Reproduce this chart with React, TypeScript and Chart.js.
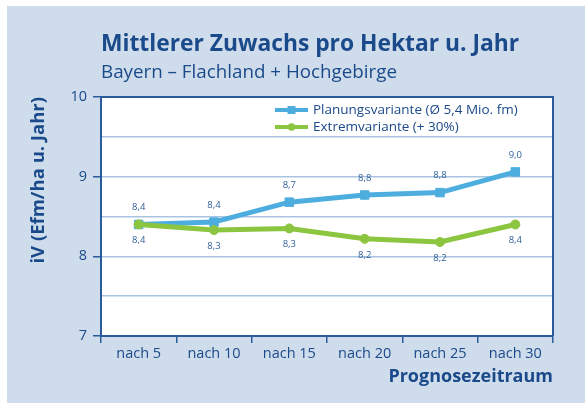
import { useEffect, useRef } from 'react';
import { Chart, registerables } from 'chart.js';

Chart.register(...registerables);

// ---- data ----
const categories = ['nach 5', 'nach 10', 'nach 15', 'nach 20', 'nach 25', 'nach 30'];
const planValues = [8.40, 8.43, 8.68, 8.77, 8.80, 9.06];
const extremValues = [8.40, 8.33, 8.35, 8.22, 8.18, 8.40];
const planLabels = ['8,4', '8,4', '8,7', '8,8', '8,8', '9,0'];
const extremLabels = ['8,4', '8,3', '8,3', '8,2', '8,2', '8,4'];
const planName = 'Planungsvariante (Ø 5,4 Mio. fm)';
const extremName = 'Extremvariante (+ 30%)';
const titleText = 'Mittlerer Zuwachs pro Hektar u. Jahr';
const subtitleText = 'Bayern – Flachland + Hochgebirge';
const yTitle = 'iV (Efm/ha u. Jahr)';
const xTitle = 'Prognosezeitraum';
const yMin = 7;
const yMax = 10;

// ---- styles ----
const FONT = '"Open Sans", "Noto Sans", sans-serif';
const DARK = '#1b4a8a';
const AXIS = '#2a5c9c';
const LABEL = '#2e5d98';
const PANEL = '#cfdcec';
const GRID = '#a9c3e0';
const BLUE = '#4cadde';
const GREEN = '#8cc540';

const decor = {
  id: 'decor',
  beforeDraw(chart: any) {
    const { ctx, width, height, chartArea: a } = chart;
    ctx.save();
    ctx.fillStyle = '#ffffff';
    ctx.fillRect(0, 0, width, height);
    ctx.fillStyle = PANEL;
    ctx.fillRect(7, 6, width - 7, height - 6);
    ctx.fillStyle = '#ffffff';
    ctx.fillRect(a.left, a.top, a.right - a.left, a.bottom - a.top);
    ctx.fillStyle = DARK;
    ctx.textAlign = 'left';
    ctx.textBaseline = 'alphabetic';
    ctx.font = `bold 22.8px ${FONT}`;
    ctx.fillText(titleText, a.left, 51);
    ctx.font = `18.8px ${FONT}`;
    ctx.fillText(subtitleText, a.left, 77.5);
    ctx.restore();
  },
  afterDatasetsDraw(chart: any) {
    const { ctx } = chart;
    ctx.save();
    ctx.fillStyle = LABEL;
    ctx.font = `9.5px ${FONT}`;
    ctx.textAlign = 'center';
    ctx.textBaseline = 'middle';
    chart.data.datasets.forEach((ds: any, i: number) => {
      const meta = chart.getDatasetMeta(i);
      const labels: string[] = ds.valueLabels;
      const dir = ds.labelSide === 'above' ? -17 : 16;
      meta.data.forEach((el: any, j: number) => {
        ctx.fillText(labels[j], el.x, el.y + dir);
      });
    });
    ctx.restore();
  },
  afterDraw(chart: any) {
    const { ctx, chartArea: a } = chart;
    ctx.save();
    ctx.strokeStyle = AXIS;
    ctx.lineWidth = 2;
    ctx.beginPath();
    ctx.moveTo(a.left, a.top);
    ctx.lineTo(a.right, a.top);
    ctx.lineTo(a.right, a.bottom);
    ctx.stroke();

    // legend
    const order = [1, 0];
    order.forEach((dsIndex, row) => {
      const ds: any = chart.data.datasets[dsIndex];
      const y = a.top + 13 + row * 17;
      const x0 = a.left + 174;
      const x1 = x0 + 33;
      ctx.strokeStyle = ds.borderColor;
      ctx.lineWidth = 4;
      ctx.beginPath();
      ctx.moveTo(x0, y);
      ctx.lineTo(x1, y);
      ctx.stroke();
      ctx.fillStyle = ds.borderColor;
      const cx = (x0 + x1) / 2;
      if (ds.pointStyle === 'rect') {
        ctx.fillRect(cx - 4, y - 4, 8, 8);
      } else {
        ctx.beginPath();
        ctx.arc(cx, y, 3.8, 0, Math.PI * 2);
        ctx.fill();
      }
      ctx.fillStyle = DARK;
      ctx.font = `13.5px ${FONT}`;
      ctx.textAlign = 'left';
      ctx.textBaseline = 'middle';
      ctx.fillText(ds.label, x1 + 5, y);
    });
    ctx.restore();
  },
};

export default function App() {
  const ref = useRef<HTMLCanvasElement | null>(null);

  useEffect(() => {
    document.body.style.margin = '0';
    const canvas = ref.current;
    if (!canvas) return;
    const chart = new Chart(canvas, {
      type: 'line',
      data: {
        labels: categories,
        datasets: [
          {
            label: extremName,
            data: extremValues,
            borderColor: GREEN,
            backgroundColor: GREEN,
            borderWidth: 5,
            pointStyle: 'circle',
            pointRadius: 4.5,
            pointBorderWidth: 1,
            tension: 0,
            order: 0,
            valueLabels: extremLabels,
            labelSide: 'below',
          } as any,
          {
            label: planName,
            data: planValues,
            borderColor: BLUE,
            backgroundColor: BLUE,
            borderWidth: 5,
            pointStyle: 'rect',
            pointRadius: 6,
            pointBorderWidth: 1,
            tension: 0,
            order: 1,
            valueLabels: planLabels,
            labelSide: 'above',
          } as any,
        ],
      },
      options: {
        animation: false,
        responsive: false,
        devicePixelRatio: 1,
        layout: { padding: { left: 20, right: 32, top: 97, bottom: 0 } },
        plugins: {
          legend: { display: false },
          tooltip: { enabled: false },
          title: { display: false },
        },
        scales: {
          x: {
            type: 'category',
            offset: true,
            grid: {
              offset: true,
              drawOnChartArea: false,
              color: AXIS,
              tickColor: AXIS,
              tickLength: 7,
              lineWidth: 1.5,
            },
            border: { display: true, color: AXIS, width: 2 },
            ticks: {
              color: DARK,
              font: { family: FONT, size: 14.5 },
              padding: 2,
              maxRotation: 0,
              autoSkip: false,
            },
            title: {
              display: true,
              text: xTitle,
              align: 'end',
              color: DARK,
              font: { family: FONT, size: 18, weight: 'bold' },
              padding: { top: 0, bottom: 15 },
            },
            afterFit: (s: any) => {
              s.height = 67;
            },
          },
          y: {
            min: yMin,
            max: yMax,
            ticks: {
              stepSize: 0.5,
              callback: (v: any) => (Number.isInteger(v) ? String(v) : ''),
              color: DARK,
              font: { family: FONT, size: 14.5 },
              padding: 6,
            },
            grid: {
              color: (c: any) => {
                const v = c.tick?.value;
                return v === yMin || v === yMax ? 'rgba(0,0,0,0)' : GRID;
              },
              tickColor: (c: any) => (Number.isInteger(c.tick?.value) ? AXIS : 'rgba(0,0,0,0)'),
              tickLength: 8,
              lineWidth: 1.5,
            },
            border: { display: true, color: AXIS, width: 2 },
            title: {
              display: true,
              text: yTitle,
              align: 'end',
              color: DARK,
              font: { family: FONT, size: 18.5, weight: 'bold' },
              padding: { top: 8, bottom: 0 },
            },
            afterFit: (s: any) => {
              s.width = 81;
            },
          },
        },
      } as any,
      plugins: [decor],
    });
    return () => chart.destroy();
  }, []);

  return (
    <div style={{ width: 585, height: 403 }}>
      <canvas ref={ref} width={585} height={403} style={{ display: 'block' }} />
    </div>
  );
}
